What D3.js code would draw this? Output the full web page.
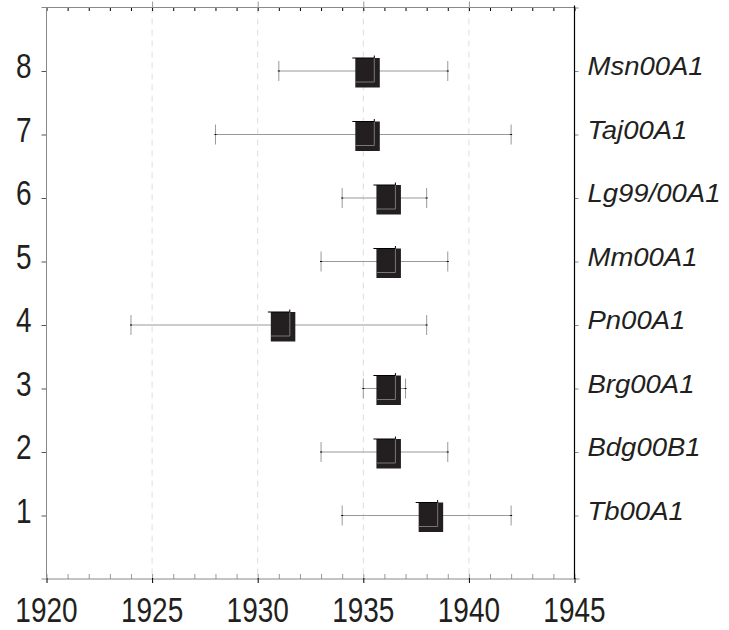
<!DOCTYPE html>
<html>
<head>
<meta charset="utf-8">
<script src="https://cdn.jsdelivr.net/npm/d3@7"></script>
<style>
  body { margin: 0; background: #fff; }
  text { font-family: "Liberation Sans", Arial, sans-serif; fill: #231f20; }
</style>
</head>
<body>
<div id="chart"></div>
<script>
// row 1 is at the bottom, row 8 at the top
const labels = ['Tb00A1', 'Bdg00B1', 'Brg00A1', 'Pn00A1', 'Mm00A1', 'Lg99/00A1', 'Taj00A1', 'Msn00A1'];
const means = [1938, 1936, 1936, 1931, 1936, 1936, 1935, 1935];
const lows = [1934, 1933, 1935, 1924, 1933, 1934, 1928, 1931];
const highs = [1942, 1939, 1937, 1938, 1939, 1938, 1942, 1939];
const yearTicks = [1920, 1925, 1930, 1935, 1940, 1945];
const rowTicks = [1, 2, 3, 4, 5, 6, 7, 8];

const width = 729, height = 630;
const svg = d3.select('#chart').append('svg')
    .attr('width', width)
    .attr('height', height);

const x = d3.scaleLinear().domain([1920, 1945]).range([46.5, 574.5]);
const y = d3.scaleLinear().domain([0, 9]).range([579, 7.5]);
const years = d3.range(1920, 1946);

const rows = rowTicks.map((r, i) => ({
    row: r, label: labels[i], mean: means[i], low: lows[i], high: highs[i]
}));

// dashed grid at the labelled years
svg.append('g')
    .selectAll('line')
    .data(yearTicks.slice(1, -1))
    .enter().append('line')
    .attr('x1', d => x(d)).attr('x2', d => x(d))
    .attr('y1', y(9)).attr('y2', y(0))
    .attr('stroke', '#dcdce8')
    .attr('stroke-dasharray', '6,5');

// top axis: gray line, black minor ticks inside, gray major ticks outside
const topAxis = svg.append('g').attr('transform', `translate(0,${y(9)})`);
topAxis.call(d3.axisBottom(x).tickValues(years).tickSize(3.5).tickFormat(''));
topAxis.select('.domain').remove();
topAxis.selectAll('line').attr('stroke', '#000');
topAxis.append('line')
    .attr('x1', x(1920) - 5).attr('x2', x(1945))
    .attr('stroke', '#888');
topAxis.append('g')
    .call(d3.axisTop(x).tickValues(yearTicks.slice(1, -1)).tickSize(6).tickFormat(''))
    .call(g => g.select('.domain').remove())
    .selectAll('line').attr('stroke', '#999');

// bottom axis: gray line, gray minor ticks inside, black major ticks
const bottomAxis = svg.append('g').attr('transform', `translate(0,${y(0)})`);
bottomAxis.call(d3.axisTop(x).tickValues(years).tickSize(5).tickFormat(''));
bottomAxis.select('.domain').remove();
bottomAxis.selectAll('line').attr('stroke', '#999');
bottomAxis.append('line')
    .attr('x1', x(1920) - 5).attr('x2', x(1945) + 5)
    .attr('stroke', '#888');
bottomAxis.append('g')
    .call(d3.axisBottom(x).tickValues(yearTicks).tickSize(4).tickFormat(''))
    .call(g => g.select('.domain').remove())
    .selectAll('line').attr('stroke', '#000').attr('y1', -1);

bottomAxis.selectAll('.yearlabel')
    .data(yearTicks)
    .enter().append('text')
    .attr('class', 'yearlabel')
    .attr('text-anchor', 'middle')
    .attr('font-size', 28)
    .attr('transform', d => `translate(${x(d)},42.5) scale(1,1.25)`)
    .text(d => d);

// left axis
const leftAxis = svg.append('g').attr('transform', `translate(${x(1920)},0)`);
leftAxis.call(d3.axisLeft(y).tickValues(rowTicks).tickSize(5).tickFormat(''));
leftAxis.select('.domain').remove();
leftAxis.selectAll('line').attr('stroke', '#555');
leftAxis.append('line')
    .attr('y1', y(9)).attr('y2', y(0))
    .attr('stroke', '#888');
leftAxis.selectAll('.rowlabel')
    .data(rowTicks)
    .enter().append('text')
    .attr('class', 'rowlabel')
    .attr('text-anchor', 'end')
    .attr('font-size', 28)
    .attr('transform', d => `translate(-15,${y(d) + 7}) scale(1,1.25)`)
    .text(d => d);

// right axis
const rightAxis = svg.append('g').attr('transform', `translate(${x(1945)},0)`);
rightAxis.call(d3.axisRight(y).tickValues(rowTicks.concat([9])).tickSize(4).tickFormat(''));
rightAxis.select('.domain').remove();
rightAxis.selectAll('line').attr('stroke', '#888');
rightAxis.append('line')
    .attr('y1', y(9) - 2).attr('y2', y(0))
    .attr('stroke', '#000')
    .attr('stroke-width', 1.2);
rightAxis.selectAll('.name')
    .data(rows)
    .enter().append('text')
    .attr('class', 'name')
    .attr('font-size', 25)
    .attr('font-style', 'italic')
    .attr('transform', d => `translate(13,${y(d.row) + 4}) scale(1.1,1)`)
    .text(d => d.label);

// whiskers
const marks = svg.append('g')
    .selectAll('g')
    .data(rows)
    .enter().append('g');

marks.append('line')
    .attr('x1', d => x(d.low)).attr('x2', d => x(d.high))
    .attr('y1', d => y(d.row)).attr('y2', d => y(d.row))
    .attr('stroke', '#999');

['low', 'high'].forEach(k => {
    marks.append('line')
        .attr('x1', d => x(d[k])).attr('x2', d => x(d[k]))
        .attr('y1', d => y(d.row) - 10).attr('y2', d => y(d.row) + 10)
        .attr('stroke', '#999');
    marks.append('rect')
        .attr('x', d => x(d[k]) - 1).attr('y', d => y(d.row) - 0.5)
        .attr('width', 2).attr('height', 1)
        .attr('fill', '#000');
});

// square markers with a drop shadow look
marks.append('rect')
    .attr('x', d => x(d.mean) - 8)
    .attr('y', d => y(d.row) - 13)
    .attr('width', 24.5)
    .attr('height', 29.5)
    .attr('fill', '#231f20');

marks.append('path')
    .attr('d', d => {
        const cx = x(d.mean), cy = y(d.row);
        return `M${cx + 11},${cy - 13}V${cy + 11}H${cx - 8}`;
    })
    .attr('fill', 'none')
    .attr('stroke', '#777');

marks.append('path')
    .attr('d', d => {
        const cx = x(d.mean), cy = y(d.row);
        return `M${cx - 11},${cy - 13}H${cx + 11}V${cy - 15.5}`;
    })
    .attr('fill', 'none')
    .attr('stroke', '#000');
</script>
</body>
</html>
